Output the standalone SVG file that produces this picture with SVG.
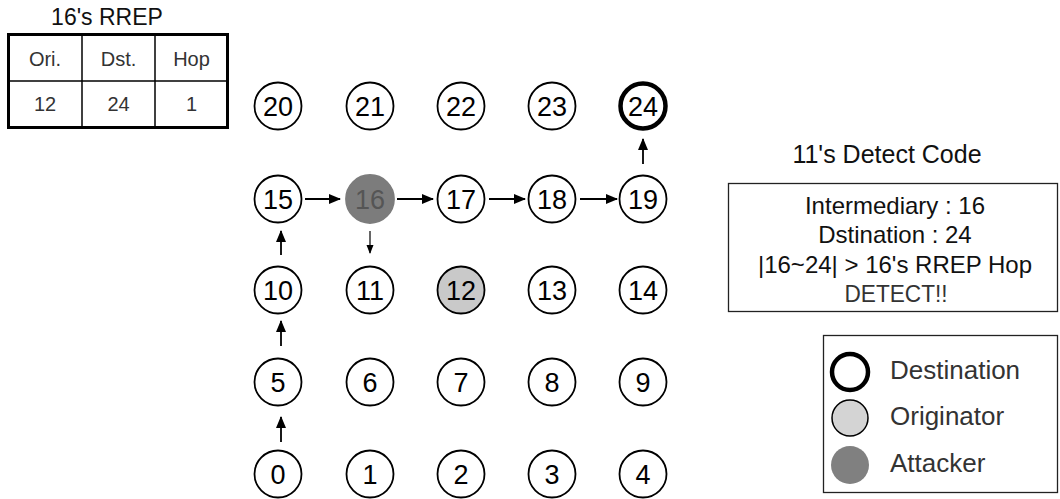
<svg xmlns="http://www.w3.org/2000/svg" width="1060" height="499" viewBox="0 0 1060 499">
<style>
text{font-family:"Liberation Sans",Arial,sans-serif;}
.n circle{fill:#fff;stroke:#000;stroke-width:1.8;}
.n text{font-size:27px;text-anchor:middle;fill:#000;}
.tc{font-size:20px;text-anchor:middle;fill:#333;}
.dc{font-size:24px;text-anchor:middle;fill:#111;}
.lg{font-size:26px;fill:#333;}
.ar{stroke:#000;stroke-width:1.8;fill:none;marker-end:url(#ah);}
.ar2{stroke:#000;stroke-width:1.2;fill:none;marker-end:url(#ah2);}
</style>
<defs>
<marker id="ah" markerUnits="userSpaceOnUse" markerWidth="12" markerHeight="10" refX="11" refY="5" orient="auto"><path d="M0,0 L12,5 L0,10 z" fill="#000"/></marker>
<marker id="ah2" markerUnits="userSpaceOnUse" markerWidth="9" markerHeight="8" refX="8" refY="4" orient="auto"><path d="M0,0.5 L9,4 L0,7.5 z" fill="#000"/></marker>
</defs>
<rect width="1060" height="499" fill="#fff"/>

<g id="rrep-table">
<text x="107" y="25" font-size="23" text-anchor="middle" fill="#111">16's RREP</text>
<rect x="8.5" y="34.5" width="219" height="93" fill="#fff" stroke="#000" stroke-width="3"/>
<line x1="8" y1="81" x2="228" y2="81" stroke="#000" stroke-width="1.5"/>
<line x1="82" y1="34" x2="82" y2="128" stroke="#000" stroke-width="1.5"/>
<line x1="155" y1="34" x2="155" y2="128" stroke="#000" stroke-width="1.5"/>
<text class="tc" x="45" y="66">Ori.</text>
<text class="tc" x="118.5" y="66">Dst.</text>
<text class="tc" x="191.5" y="66">Hop</text>
<text class="tc" x="45" y="111">12</text>
<text class="tc" x="118.5" y="111">24</text>
<text class="tc" x="191.5" y="111">1</text>
</g>

<g id="connectors">
<line class="ar" x1="305" y1="199" x2="340" y2="199"/>
<line class="ar" x1="397" y1="199" x2="433" y2="199"/>
<line class="ar" x1="489" y1="199" x2="525" y2="199"/>
<line class="ar" x1="580" y1="199" x2="617" y2="199"/>
<line class="ar" x1="643" y1="164" x2="643" y2="139"/>
<line class="ar2" x1="370" y1="231" x2="370" y2="253"/>
<line class="ar" x1="281" y1="255" x2="281" y2="231"/>
<line class="ar" x1="281" y1="346" x2="281" y2="321"/>
<line class="ar" x1="281" y1="442" x2="281" y2="417"/>
</g>

<g id="node-20" class="n"><circle cx="278" cy="106" r="23.5"/><text x="278" y="116">20</text></g>
<g id="node-21" class="n"><circle cx="370" cy="106" r="23.5"/><text x="370" y="116">21</text></g>
<g id="node-22" class="n"><circle cx="461" cy="106" r="23.5"/><text x="461" y="116">22</text></g>
<g id="node-23" class="n"><circle cx="552" cy="106" r="23.5"/><text x="552" y="116">23</text></g>
<g id="node-24" class="n"><circle cx="643" cy="106" r="22.5" style="stroke-width:4.5"/><text x="643" y="116">24</text></g>

<g id="node-15" class="n"><circle cx="278" cy="199" r="23.5"/><text x="278" y="209">15</text></g>
<g id="node-16" class="n"><circle cx="370" cy="199" r="24" style="fill:#7c7c7c;stroke:#7c7c7c"/><text x="370" y="209" style="fill:#555">16</text></g>
<g id="node-17" class="n"><circle cx="461" cy="199" r="23.5"/><text x="461" y="209">17</text></g>
<g id="node-18" class="n"><circle cx="552" cy="199" r="23.5"/><text x="552" y="209">18</text></g>
<g id="node-19" class="n"><circle cx="643" cy="199" r="23.5"/><text x="643" y="209">19</text></g>

<g id="node-10" class="n"><circle cx="278" cy="290" r="23.5"/><text x="278" y="300">10</text></g>
<g id="node-11" class="n"><circle cx="370" cy="290" r="23.5"/><text x="370" y="300">11</text></g>
<g id="node-12" class="n"><circle cx="461" cy="290" r="23.5" style="fill:#c9c9c9"/><text x="461" y="300">12</text></g>
<g id="node-13" class="n"><circle cx="552" cy="290" r="23.5"/><text x="552" y="300">13</text></g>
<g id="node-14" class="n"><circle cx="643" cy="290" r="23.5"/><text x="643" y="300">14</text></g>

<g id="node-5" class="n"><circle cx="278" cy="382" r="23.5"/><text x="278" y="392">5</text></g>
<g id="node-6" class="n"><circle cx="370" cy="382" r="23.5"/><text x="370" y="392">6</text></g>
<g id="node-7" class="n"><circle cx="461" cy="382" r="23.5"/><text x="461" y="392">7</text></g>
<g id="node-8" class="n"><circle cx="552" cy="382" r="23.5"/><text x="552" y="392">8</text></g>
<g id="node-9" class="n"><circle cx="643" cy="382" r="23.5"/><text x="643" y="392">9</text></g>

<g id="node-0" class="n"><circle cx="278" cy="474" r="23.5"/><text x="278" y="484">0</text></g>
<g id="node-1" class="n"><circle cx="370" cy="474" r="23.5"/><text x="370" y="484">1</text></g>
<g id="node-2" class="n"><circle cx="461" cy="474" r="23.5"/><text x="461" y="484">2</text></g>
<g id="node-3" class="n"><circle cx="552" cy="474" r="23.5"/><text x="552" y="484">3</text></g>
<g id="node-4" class="n"><circle cx="643" cy="474" r="23.5"/><text x="643" y="484">4</text></g>

<g id="detect-code">
<text x="887" y="163" font-size="25" text-anchor="middle" fill="#111">11's Detect Code</text>
<rect x="728.5" y="183.5" width="329" height="128" fill="#fff" stroke="#222" stroke-width="1.3"/>
<text class="dc" x="895" y="214">Intermediary : 16</text>
<text class="dc" x="895" y="243">Dstination : 24</text>
<text class="dc" x="895" y="273">|16~24| &gt; 16's RREP Hop</text>
<text x="896" y="302" font-size="23" text-anchor="middle" fill="#333" textLength="103" lengthAdjust="spacingAndGlyphs">DETECT!!</text>
</g>

<g id="legend">
<rect x="823.5" y="335.5" width="234" height="157" fill="#fff" stroke="#222" stroke-width="1.3"/>
<circle cx="850" cy="372" r="18" fill="#fff" stroke="#000" stroke-width="4.5"/>
<circle cx="850" cy="418" r="18" fill="#d4d4d4" stroke="#000" stroke-width="1.5"/>
<circle cx="850" cy="465" r="19" fill="#808080"/>
<text class="lg" x="890" y="379">Destination</text>
<text class="lg" x="890" y="425">Originator</text>
<text class="lg" x="890" y="472">Attacker</text>
</g>
</svg>
